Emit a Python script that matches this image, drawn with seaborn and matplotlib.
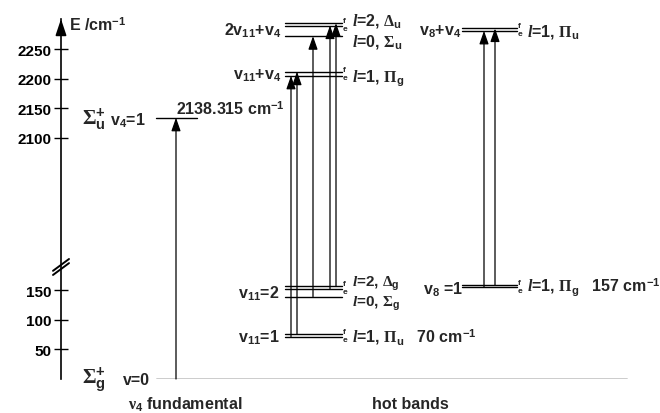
import numpy as np
import pandas as pd
import matplotlib
matplotlib.use("Agg")
import matplotlib.pyplot as plt
import seaborn as sns

# ---------------- data (energies in cm^-1) ----------------
ground = 0.0
v4_fund = 2134.0                  # nu4 = 1 level (labelled 2138.315 cm-1)
v4_fund_label = "2138.315"
v11_1 = [76.0, 71.6]              # v11=1, l=1 Pi_u   (f, e)
v11_2_l2 = [156.5, 152.3]         # v11=2, l=2 Delta_g (f, e)
v11_2_l0 = [139.3]                # v11=2, l=0 Sigma_g
v8_1 = [159.0, 155.0]             # v8=1, l=1 Pi_g    (f, e)
v11_v4 = [2212.0, 2205.0]         # v11+v4, l=1 Pi_g  (f, e)
v11x2_v4_l2 = [2294.0, 2290.0]    # 2v11+v4, l=2 Delta_u (f, e)
v11x2_v4_l0 = [2272.0]            # 2v11+v4, l=0 Sigma_u
v8_v4 = [2285.0, 2281.0]          # v8+v4, l=1 Pi_u   (f, e)
y_ticks = [50, 100, 150, 2100, 2150, 2200, 2250]
y_tick_labels = ["50", "100", "150", "2100", "2150", "2200", "2250"]

# ---------------- layout ----------------
W, H = 660, 414
X_FUND = (156, 197)
X_MID = (285, 342)
X_RIGHT = (462, 517)

sns.set_style("white")
plt.rcParams["font.family"] = ["Liberation Sans", "DejaVu Sans"]
plt.rcParams["font.weight"] = "bold"
plt.rcParams["mathtext.fontset"] = "custom"
plt.rcParams["mathtext.rm"] = "Liberation Serif"
plt.rcParams["mathtext.it"] = "Liberation Serif:italic:bold"
plt.rcParams["mathtext.bf"] = "Liberation Sans:bold"
plt.rcParams["mathtext.sf"] = "Liberation Sans:bold"

# broken energy axis
GAP_LO, GAP_HI, SHIFT = 250.0, 2000.0, 1692.0
HI_T = GAP_HI - SHIFT


def fwd(E):
    E = np.asarray(E, float)
    mid = GAP_LO + (E - GAP_LO) * (HI_T - GAP_LO) / (GAP_HI - GAP_LO)
    return np.where(E <= GAP_LO, E, np.where(E >= GAP_HI, E - SHIFT, mid))


def inv(Y):
    Y = np.asarray(Y, float)
    mid = GAP_LO + (Y - GAP_LO) * (GAP_HI - GAP_LO) / (HI_T - GAP_LO)
    return np.where(Y <= GAP_LO, Y, np.where(Y >= HI_T, Y + SHIFT, mid))


fig = plt.figure(figsize=(W / 100, H / 100), dpi=100)
ax = fig.add_axes([61 / W, 34 / H, (640 - 61) / W, 360 / H])

# ---------------- levels ----------------
levels = [(X_FUND[0], 627, ground), (X_FUND[0], X_FUND[1], v4_fund)]
for grp in (v11_1, v11_2_l2, v11_2_l0, v11_v4, v11x2_v4_l2, v11x2_v4_l0):
    for E in grp:
        levels.append((X_MID[0], X_MID[1], E))
for grp in (v8_1, v8_v4):
    for E in grp:
        levels.append((X_RIGHT[0], X_RIGHT[1], E))

rows = []
for i, (x0, x1, E) in enumerate(levels):
    rows.append((i, x0, E))
    rows.append((i, x1, E))
df = pd.DataFrame(rows, columns=["lid", "x", "E"])
sns.lineplot(data=df, x="x", y="E", units="lid", estimator=None, sort=False,
             color="black", lw=1.0, legend=False, ax=ax)
ax.set_xlabel("")
ax.set_ylabel("")

ax.set_yscale("function", functions=(fwd, inv))
ax.set_xlim(61, 640)
ax.set_ylim(0, float(inv(609)))

# ---------------- transitions ----------------
arrows = [
    (176, ground, v4_fund),
    (291, v11_1[1], v11_v4[1]),
    (297, v11_1[0], v11_v4[0]),
    (313, v11_2_l0[0], v11x2_v4_l0[0]),
    (330, v11_2_l2[1], v11x2_v4_l2[1]),
    (336, v11_2_l2[0], v11x2_v4_l2[0]),
    (484, v8_1[1], v8_v4[1]),
    (495, v8_1[0], v8_v4[0]),
]
for x, e0, e1 in arrows:
    ax.annotate("", xy=(x, e1), xytext=(x, e0),
                arrowprops=dict(arrowstyle="-|>,head_length=0.8,head_width=0.28",
                                mutation_scale=10, lw=0.9, color="black",
                                shrinkA=0, shrinkB=0))

# ---------------- axis styling ----------------
for s in ("top", "right", "bottom"):
    ax.spines[s].set_visible(False)
ax.spines["left"].set_linewidth(1.2)
ax.spines["left"].set_color("black")
ax.set_xticks([])
ax.set_yticks(y_ticks)
ax.set_yticklabels(y_tick_labels, fontweight="bold", fontsize=11)
ax.tick_params(axis="y", direction="inout", length=9.4, width=1.0, pad=2,
               colors="black", left=True)
ax.annotate("", xy=(0, 1), xycoords="axes fraction", xytext=(0, 0.96),
            arrowprops=dict(arrowstyle="-|>,head_length=0.9,head_width=0.3",
                            mutation_scale=11, lw=1.2, color="black",
                            shrinkA=0, shrinkB=0))
# axis break marks
for e_a, e_b in ((176.0, 196.0), (183.0, 203.0)):
    ax.plot([53, 69], [e_a, e_b], color="black", lw=1.4, clip_on=False)

fig.text(69 / W, 1 - 25 / H, r"E /cm$^{\mathbf{-1}}$", fontsize=11.5,
         fontweight="bold", ha="left", va="center")

PX = 0.72  # points per pixel


def lab(x, E, s, dy=0.0, ha="left", va="center", size=11.5):
    ax.annotate(s, xy=(x, E), xytext=(0, dy * PX), textcoords="offset points",
                ha=ha, va=va, fontsize=size, fontweight="bold",
                annotation_clip=False)


# left state symbols
lab(82, v4_fund, r"$\Sigma^{\mathbf{+}}_{\mathbf{u}}$", dy=0, size=15)
lab(110, v4_fund, r"$\mathbf{v_4}$=1", dy=-2)
lab(82, ground, r"$\Sigma^{\mathbf{+}}_{\mathbf{g}}$", dy=0, size=15)
lab(123, ground, "v=0", dy=-1)
lab(176, v4_fund, v4_fund_label + r" cm$^{\mathbf{-1}}$", dy=1, va="bottom")

# level names (left of columns)
lab(281, (v11x2_v4_l2[0] + v11x2_v4_l0[0]) / 2, r"$\mathbf{2v_{11}{+}v_4}$", ha="right")
lab(281, (v11_v4[0] + v11_v4[1]) / 2, r"$\mathbf{v_{11}{+}v_4}$", ha="right", dy=-1)
lab(280, (v11_2_l2[0] + v11_2_l0[0]) / 2, r"$\mathbf{v_{11}}$=2", ha="right", dy=-1)
lab(280, (v11_1[0] + v11_1[1]) / 2, r"$\mathbf{v_{11}}$=1", ha="right", dy=-1)
lab(461, (v8_v4[0] + v8_v4[1]) / 2, r"$\mathbf{v_8{+}v_4}$", ha="right", dy=-1)
lab(463, (v8_1[0] + v8_1[1]) / 2, r"$\mathbf{v_8}$ =1", ha="right", dy=-2)

# l, symmetry labels
lab(352, v11x2_v4_l2[0], r"$l$=2, $\Delta_{\mathbf{u}}$", dy=3)
lab(352, v11x2_v4_l0[0], r"$l$=0, $\Sigma_{\mathbf{u}}$", dy=-5)
lab(352, v11_v4[1], r"$l$=1, $\Pi_{\mathbf{g}}$", dy=-2)
lab(352, v11_2_l2[0], r"$l$=2, $\Delta_{\mathbf{g}}$", dy=3.5, size=11)
lab(352, v11_2_l0[0], r"$l$=0, $\Sigma_{\mathbf{g}}$", dy=-6, size=11)
lab(352, v11_1[1], r"$l$=1, $\Pi_{\mathbf{u}}$   70 cm$^{\mathbf{-1}}$", dy=1)
lab(527, v8_v4[1], r"$l$=1, $\Pi_{\mathbf{u}}$", dy=0)
lab(527, v8_1[1], r"$l$=1, $\Pi_{\mathbf{g}}$   157 cm$^{\mathbf{-1}}$", dy=1)

# parity e/f tags (f above, e below the pair midpoint)
for xe, pair in ((X_MID[1], v11x2_v4_l2), (X_MID[1], v11_v4), (X_MID[1], v11_2_l2),
                 (X_MID[1], v11_1), (X_RIGHT[1], v8_v4), (X_RIGHT[1], v8_1)):
    mid = (pair[0] + pair[1]) / 2
    lab(xe + 1, mid, "f", dy=0.5, va="bottom", size=6)
    lab(xe + 1, mid, "e", dy=-0.5, va="top", size=6)

fig.text(185 / W, 1 - 405 / H, r"$\mathrm{\nu}_{\mathbf{4}}$ fundamental",
         fontsize=11.5, fontweight="bold", ha="center", va="center")
fig.text(410 / W, 1 - 405 / H, "hot bands", fontsize=11.5, fontweight="bold",
         ha="center", va="center")

fig.savefig("out.png", dpi=100, facecolor="white")
